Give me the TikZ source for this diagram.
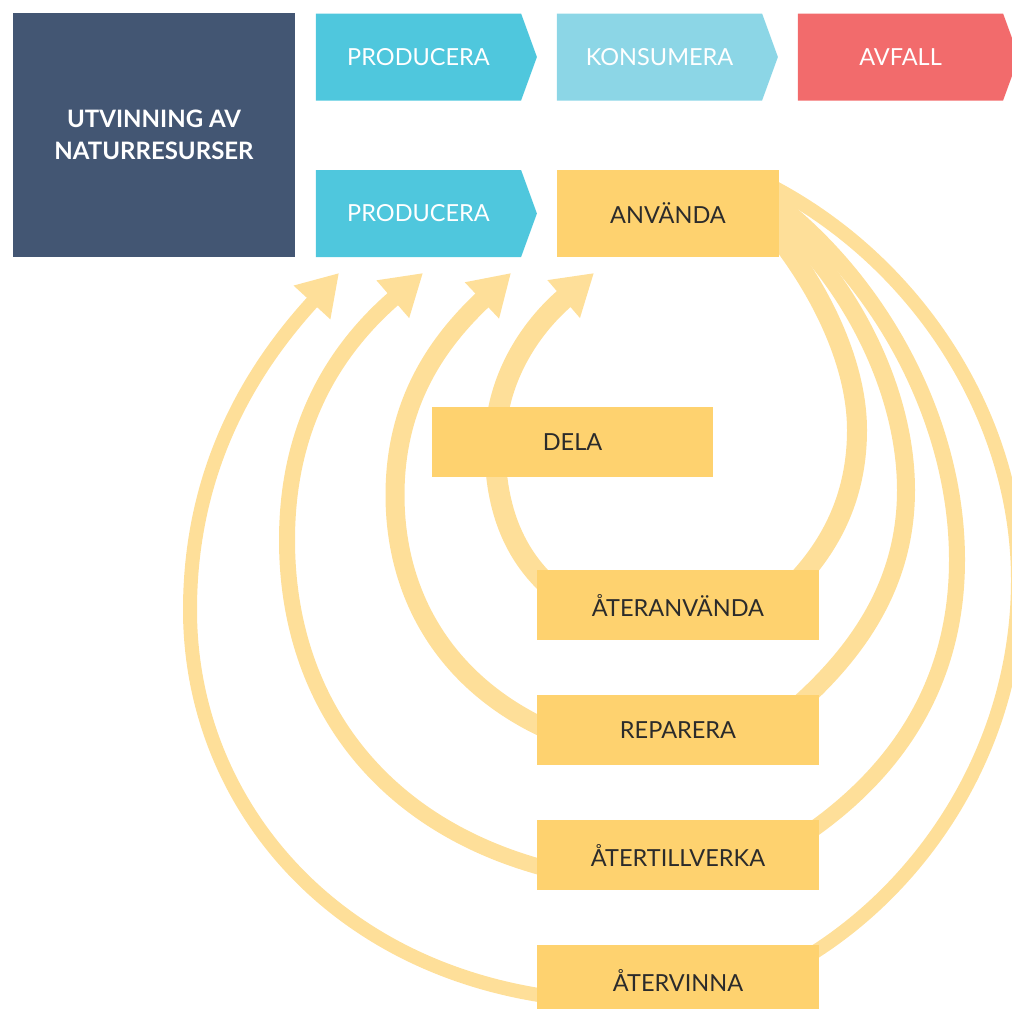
\documentclass[tikz,border=0pt]{standalone}
\usepackage{fontspec}
\setmainfont{Lato}
\usetikzlibrary{shapes.symbols,arrows.meta,backgrounds}

\definecolor{navybox}{HTML}{435673}
\definecolor{cyanbox}{HTML}{4FC7DD}
\definecolor{lightcyan}{HTML}{8CD6E6}
\definecolor{redbox}{HTML}{F26B6C}
\definecolor{yellowbox}{HTML}{FED26F}
\definecolor{loopyellow}{HTML}{FEDF99}
\definecolor{darktext}{HTML}{2B2B2B}

\tikzset{
  chevron/.style={signal, signal to=east, signal pointer angle=140,
    minimum width=221pt, minimum height=87pt, inner sep=0pt,
    fill=#1, text=white, font=\fontsize{23.5}{28}\selectfont},
  usebox/.style={rectangle, fill=yellowbox, minimum width=222pt, minimum height=87pt,
    inner sep=0pt, text=darktext, font=\fontsize{23.5}{28}\selectfont},
  stepbox/.style={rectangle, fill=yellowbox, minimum width=282pt, minimum height=70pt,
    inner sep=0pt, text=darktext, font=\fontsize{23.5}{28}\selectfont},
  backarc/.style={draw=loopyellow, line width=#1},
  bigtip/.style={-{Triangle[length=40pt,width=47pt]}},
}

\begin{document}
\begin{tikzpicture}[x=1pt,y=-1pt]
    \useasboundingbox (0,0) rectangle (1012,1009);

    % Linear chain
    \node[rectangle, fill=navybox, minimum width=282pt, minimum height=244pt, inner sep=0pt,
          text=white, align=center, font=\fontsize{24}{32}\selectfont\bfseries]
          (utv) at (154,135) {UTVINNING AV\\NATURRESURSER};
    \node[chevron=cyanbox] (prodA) at (418.5,57) {PRODUCERA};
    \node[chevron=lightcyan] (kons) at (659.5,57) {KONSUMERA};
    \node[chevron=redbox] (avf) at (900.5,57) {AVFALL};

    % Circular chain
    \node[chevron=cyanbox] (prodB) at (418.5,213.5) {PRODUCERA};
    \node[usebox] (anv) at (668,213.5) {ANVÄNDA};
    \node[stepbox, minimum width=281pt] (dela) at (572.5,442) {DELA};
    \node[stepbox] (reuse) at (678,605) {ÅTERANVÄNDA};
    \node[stepbox] (repair) at (678,730) {REPARERA};
    \node[stepbox] (reman) at (678,855) {ÅTERTILLVERKA};
    \node[stepbox] (recycle) at (678,980) {ÅTERVINNA};

    % Arrow tips below the row
    \coordinate (tip1) at (594,273);
    \coordinate (tip2) at (511,273);
    \coordinate (tip3) at (423,273);
    \coordinate (tip4) at (339,273);

    \begin{scope}[on background layer]
        % Right half: from ANVÄNDA down to each box
        \draw[backarc=20pt] ([xshift=-8pt,yshift=-14.5pt]anv.east) .. controls (822,290) and (857,365) .. (857,430)
            .. controls (857,500) and (828,550) .. ([xshift=-29pt,yshift=-18pt]reuse.north east);
        \draw[backarc=18pt] ([xshift=-8pt,yshift=1.5pt]anv.east) .. controls (850,280) and (906,390) .. (906,490)
            .. controls (906,580) and (862,650) .. ([xshift=-29pt,yshift=-17pt]repair.north east);
        \draw[backarc=16pt] ([xshift=-8pt,yshift=15.5pt]anv.east) .. controls (880,280) and (957,420) .. (957,560)
            .. controls (957,680) and (900,770) .. ([xshift=-14pt,yshift=-15pt]reman.north east);
        \draw[backarc=14pt] ([xshift=-8pt,yshift=27.5pt]anv.east) .. controls (920,264) and (1018,420) .. (1018,580)
            .. controls (1018,740) and (930,880) .. ([xshift=-9pt,yshift=-10pt]recycle.north east);

        % Left half: from each box back up to the row
        \draw[backarc=21pt, bigtip] ([xshift=23pt,yshift=10pt]reuse.west) .. controls (515,560) and (495,510) .. (495,445)
            .. controls (495,380) and (530,328) .. (tip1);
        \draw[backarc=19pt, bigtip] ([xshift=23pt,yshift=-5pt]repair.west) .. controls (450,690) and (395,600) .. (395,495)
            .. controls (395,400) and (440,340) .. (tip2);
        \draw[backarc=16pt, bigtip] ([xshift=23pt,yshift=-17pt]reman.west) .. controls (380,830) and (287,700) .. (287,540)
            .. controls (287,420) and (340,345) .. (tip3);
        \draw[backarc=14pt, bigtip] ([xshift=23pt,yshift=-18pt]recycle.west) .. controls (330,970) and (190,800) .. (190,610)
            .. controls (190,470) and (250,370) .. (tip4);
    \end{scope}
\end{tikzpicture}
\end{document}
